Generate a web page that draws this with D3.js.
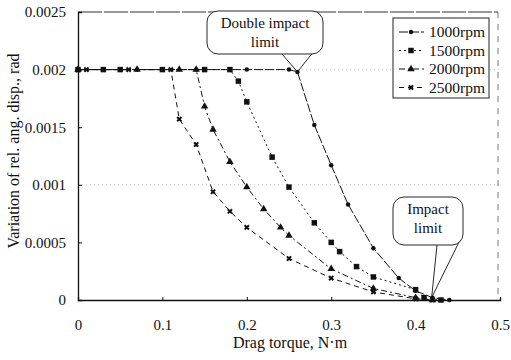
<!DOCTYPE html>
<html>
<head>
<script src="https://d3js.org/d3.v7.min.js"></script>
<style>
  body { margin: 0; background: #fff; }
  text { font-family: "Liberation Serif", "DejaVu Serif", serif; fill: #111; }
</style>
</head>
<body>
<svg width="511" height="360"></svg>
<script>
const series = ["1000rpm", "1500rpm", "2000rpm", "2500rpm"];
const x1000 = [0, 0.07, 0.14, 0.2, 0.25, 0.26, 0.28, 0.3, 0.32, 0.35, 0.38, 0.4, 0.42, 0.44];
const y1000 = [0.002, 0.002, 0.002, 0.002, 0.002, 0.00198, 0.00152, 0.00117, 0.00083, 0.00045, 0.00019, 0.00008, 0.00002, 0];
const x1500 = [0, 0.03, 0.05, 0.1, 0.15, 0.18, 0.19, 0.2, 0.23, 0.25, 0.28, 0.3, 0.31, 0.33, 0.35, 0.4, 0.41, 0.43];
const y1500 = [0.002, 0.002, 0.002, 0.002, 0.002, 0.002, 0.0019, 0.00172, 0.00124, 0.00098, 0.00067, 0.0005, 0.00042, 0.00029, 0.0002, 0.00009, 0.00002, 0];
const x2000 = [0, 0.07, 0.12, 0.14, 0.15, 0.16, 0.18, 0.2, 0.22, 0.24, 0.25, 0.3, 0.35, 0.4, 0.42];
const y2000 = [0.002, 0.002, 0.002, 0.002, 0.00168, 0.00148, 0.0012, 0.00098, 0.00079, 0.00063, 0.00056, 0.00027, 0.0001, 0.00002, 0];
const x2500 = [0, 0.01, 0.06, 0.11, 0.12, 0.14, 0.16, 0.18, 0.2, 0.25, 0.3, 0.35, 0.4, 0.42];
const y2500 = [0.002, 0.002, 0.002, 0.002, 0.00157, 0.00135, 0.00094, 0.00077, 0.00063, 0.00036, 0.00019, 0.00007, 0.00001, 0];
const xTicks = [0, 0.1, 0.2, 0.3, 0.4, 0.5];
const yTicks = [0, 0.0005, 0.001, 0.0015, 0.002, 0.0025];

const allX = [x1000, x1500, x2000, x2500];
const allY = [y1000, y1500, y2000, y2500];
const dashes = ["9,2", "2,3", "6,3,2,3", "5,4"];
const shapes = [d3.symbolCircle, d3.symbolSquare, d3.symbolTriangle, d3.symbolCross];
const sizes = [16, 30, 24, 20];

const svg = d3.select("svg");
const x = d3.scaleLinear().domain([0, 0.5]).range([78, 500]);
const y = d3.scaleLinear().domain([0, 0.0025]).range([300, 12]);

// faint grid
svg.selectAll(".grid").data([0.001, 0.002]).enter().append("line")
  .attr("x1", x(0)).attr("x2", x(0.5))
  .attr("y1", d => y(d)).attr("y2", d => y(d))
  .attr("stroke", "#bbb").attr("stroke-width", 0.8).attr("stroke-dasharray", "1,3");

// frame: top and right
svg.append("line").attr("x1", x(0)).attr("x2", x(0.5) - 2).attr("y1", y(0.0025)).attr("y2", y(0.0025))
  .attr("stroke", "#333").attr("stroke-dasharray", "24,2");
svg.append("line").attr("x1", x(0.5) - 2).attr("x2", x(0.5) - 2).attr("y1", y(0.0025)).attr("y2", y(0))
  .attr("stroke", "#777").attr("stroke-dasharray", "6,6");

// axes
const xAxis = svg.append("g").attr("transform", "translate(0," + y(0) + ")")
  .call(d3.axisBottom(x).tickValues(xTicks).tickSize(-3).tickPadding(19).tickFormat(d3.format("")));
const yAxis = svg.append("g").attr("transform", "translate(" + x(0) + ",0)")
  .call(d3.axisLeft(y).tickValues(yTicks).tickSize(-4).tickPadding(12)
    .tickFormat(d => d === 0 ? "0" : String(+d.toFixed(4))));
[xAxis, yAxis].forEach(a => {
  a.select(".domain").attr("stroke", "#111").attr("stroke-width", 1.3);
  a.selectAll(".tick line").attr("stroke", "#111");
  a.selectAll("text").style("font-size", "15px").attr("fill", "#111")
    .style("font-family", "Liberation Serif");
});

svg.append("text").attr("x", 290).attr("y", 348).attr("text-anchor", "middle")
  .style("font-size", "16px").text("Drag torque, N·m");
svg.append("text").attr("transform", "translate(19,151) rotate(-90)").attr("text-anchor", "middle")
  .style("font-size", "16px").text("Variation of rel. ang. disp., rad");

// series
const line = d3.line().x(d => x(d[0])).y(d => y(d[1]));
series.forEach((s, i) => {
  const pts = allX[i].map((v, j) => [v, allY[i][j]]);
  svg.append("path").datum(pts).attr("d", line)
    .attr("fill", "none").attr("stroke", "#111").attr("stroke-width", 1)
    .attr("stroke-dasharray", dashes[i]);
  svg.selectAll(".m" + i).data(pts).enter().append("path")
    .attr("transform", d => "translate(" + x(d[0]) + "," + y(d[1]) + ")" + (i === 3 ? " rotate(45)" : ""))
    .attr("d", d3.symbol().type(shapes[i]).size(sizes[i]))
    .attr("fill", "#111");
});

// legend
const lg = svg.append("g");
lg.append("rect").attr("x", 393).attr("y", 18).attr("width", 96).attr("height", 80)
  .attr("fill", "#fff").attr("stroke", "#222").attr("stroke-width", 1);
series.forEach((s, i) => {
  const ly = 32 + i * 18.5;
  lg.append("line").attr("x1", 399).attr("x2", 424).attr("y1", ly).attr("y2", ly)
    .attr("stroke", "#111").attr("stroke-dasharray", dashes[i]);
  lg.append("path").attr("transform", "translate(411," + ly + ")" + (i === 3 ? " rotate(45)" : ""))
    .attr("d", d3.symbol().type(shapes[i]).size(sizes[i])).attr("fill", "#111");
  lg.append("text").attr("x", 429).attr("y", ly + 5).style("font-size", "15.5px").text(s);
});

// callouts
function callout(bx, by, bw, bh, lines, ptr, tx) {
  const g = svg.append("g");
  g.append("path").attr("d",
    "M" + ptr[0][0] + "," + (by + bh) + " L" + tx[0] + "," + tx[1] + " L" + ptr[1][0] + "," + ptr[1][1])
    .attr("fill", "none").attr("stroke", "#111").attr("stroke-width", 0.9);
  g.append("rect").attr("x", bx).attr("y", by).attr("width", bw).attr("height", bh)
    .attr("rx", 11).attr("fill", "#fff").attr("stroke", "#111").attr("stroke-width", 0.9);
  lines.forEach((t, k) => {
    g.append("text").attr("x", bx + bw / 2).attr("y", by + 17 + k * 19)
      .attr("text-anchor", "middle").style("font-size", "15px").text(t);
  });
}
callout(207, 11, 116, 43, ["Double impact", "limit"], [[282, 54], [318, 46]], [x(0.26), y(0.00198)]);
callout(393, 197, 70, 48, ["Impact", "limit"], [[437, 245], [460, 240]], [x(0.419), y(0.00002)]);
</script>
</body>
</html>
